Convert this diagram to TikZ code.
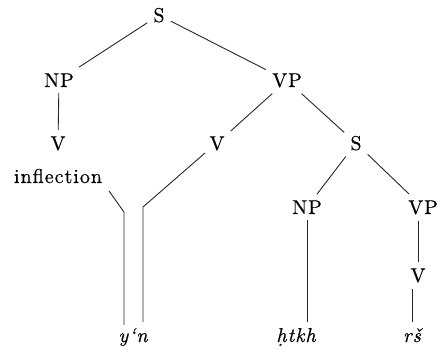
\documentclass[tikz,border=0pt]{standalone}
\usepackage{fontspec}
\setmainfont{lmroman10-regular.otf}[ItalicFont=lmroman10-italic.otf,LetterSpace=5,FakeBold=0.6]
\begin{document}
\begin{tikzpicture}[x=1pt,y=-1pt,
  lbl/.style={anchor=base,inner sep=6pt,font=\fontsize{20}{22}\selectfont},
  itl/.style={anchor=base,inner sep=6pt,font=\fontsize{20}{22}\selectfont\itshape},
  edge/.style={line width=0.9pt,draw=black!85}]
\useasboundingbox (0,0) rectangle (440,352);
\node[lbl] (S1) at (159,22) {S};
\node[lbl] (NP1) at (59,87) {NP};
\node[lbl] (V1) at (58,150) {V};
\node[lbl] (infl) at (58,183) {inflection};
\node[lbl] (VP1) at (287,87) {VP};
\node[lbl] (V2) at (217,150) {V};
\node[lbl] (S2) at (356,150) {S};
\node[lbl] (NP2) at (307,214) {NP};
\node[lbl] (VP2) at (423,214) {VP};
\node[lbl] (V3) at (418,282) {V};
\node[itl] (yn) at (133,342) {y‘n};
\node[itl] (htkh) at (296,342) {ḥtkh};
\node[itl] (rs) at (412,342) {rš};
\coordinate (bl) at (124,212);
\coordinate (blb) at (124,325);
\coordinate (br) at (143,207);
\coordinate (brb) at (143,322);
\coordinate (il) at (109,191);
\coordinate (vr) at (205,153);
\draw[edge] (S1) -- (NP1);
\draw[edge] (S1) -- (VP1);
\draw[edge] (NP1) -- (V1);
\draw[edge] (VP1) -- (V2);
\draw[edge] (VP1) -- (S2);
\draw[edge] (S2) -- (NP2);
\draw[edge] (S2) -- (VP2);
\draw[edge] (VP2.south -| V3) -- (V3.north);
\draw[edge] (V3.south -| rs) -- (rs.north);
\draw[edge] (NP2.south) -- (NP2.south |- htkh.north);
\draw[edge] (il) -- (bl) -- (blb);
\draw[edge] (vr) -- (br) -- (brb);
\end{tikzpicture}
\end{document}
